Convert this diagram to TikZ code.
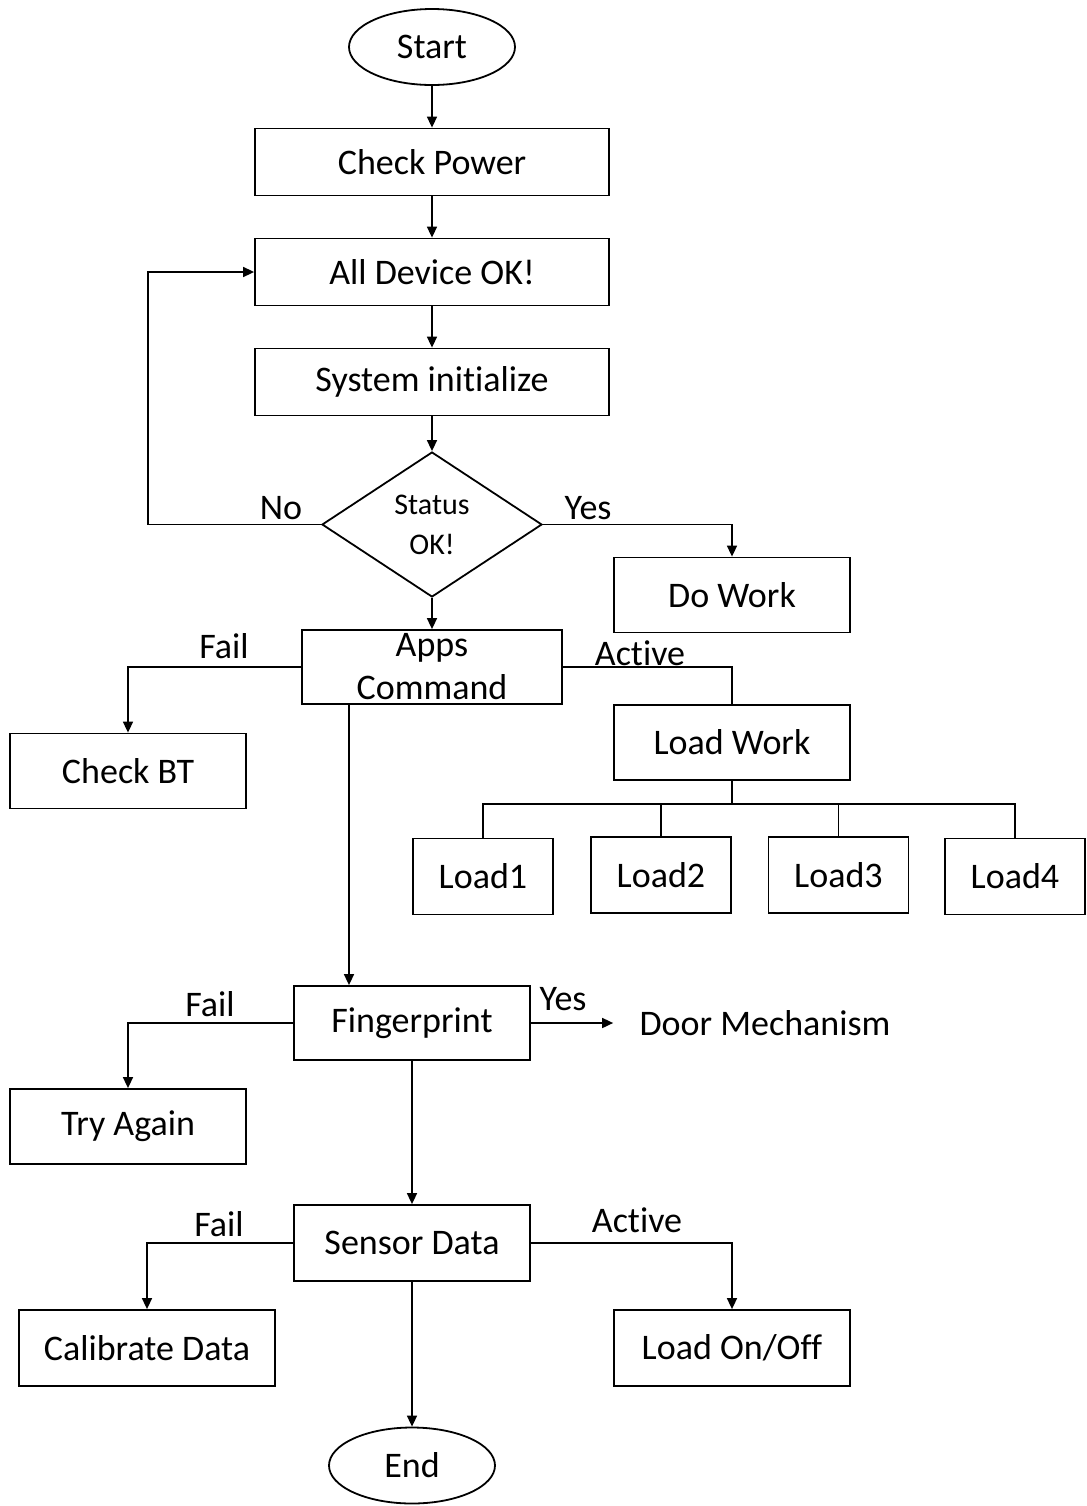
\documentclass[tikz,border=0pt]{standalone}
\usepackage{fontspec}
\setmainfont{Carlito}[Ligatures={NoCommon,NoContextual}]
\usetikzlibrary{shapes.geometric,arrows.meta}
\begin{document}
\begin{tikzpicture}[x=0.5pt,y=-0.5pt,
  every node/.style={font=\fontsize{18}{21.5}\selectfont, inner sep=0pt},
  box/.style={draw, line width=0.9pt, rectangle, minimum width=118pt, minimum height=37.5pt, align=center},
  wide/.style={box, minimum width=177pt, minimum height=33.5pt},
  loadbox/.style={box, minimum width=70pt, minimum height=38pt},
  term/.style={draw, line width=0.9pt, ellipse, minimum width=83pt, minimum height=38pt},
  dec/.style={draw, line width=0.9pt, diamond, minimum width=110pt, minimum height=72.5pt, align=center, font=\fontsize{15}{20}\selectfont},
  lbl/.style={font=\fontsize{18}{21.5}\selectfont},
  conn/.style={line width=0.8pt},
  arr/.style={conn, -{Triangle[length=5.5pt,width=5pt]}}
]
\useasboundingbox (0,0) rectangle (1087,1506);

\node[term] (start) at (432,47) {Start};
\node[wide] (power) at (432,162) {Check Power};
\node[wide] (alldev) at (432,272) {All Device OK!};
\node[wide] (sysinit) at (432,382) {System initialize};
\node[dec] (status) at (432,524.5) {Status\\OK!};
\node[box] (dowork) at (732,595) {Do Work};
\node[box, minimum width=130pt, minimum height=37pt] (apps) at (432,667) {Apps\\Command};
\node[box] (checkbt) at (128,771) {Check BT};
\node[box] (loadwork) at (732,742.5) {Load Work};
\node[loadbox] (l1) at (483,876.5) {Load1};
\node[loadbox] (l2) at (661,875) {Load2};
\node[loadbox] (l3) at (838.5,875) {Load3};
\node[loadbox] (l4) at (1015,876.5) {Load4};
\node[box, minimum height=37pt] (finger) at (412,1023) {Fingerprint};
\node (door) at (765,1023) {Door Mechanism};
\node[box] (tryagain) at (128,1126.5) {Try Again};
\node[box, minimum height=38pt] (sensor) at (412,1243) {Sensor Data};
\node[box, minimum width=128pt, minimum height=38pt] (calib) at (147,1348) {Calibrate Data};
\node[box, minimum height=38pt] (onoff) at (732,1348) {Load On/Off};
\node[term] (endn) at (412,1465.5) {End};

\coordinate (loopc) at (148,524.5);
\coordinate (tree) at (732,804);

\draw[arr] (start) -- (power);
\draw[arr] (power) -- (alldev);
\draw[arr] (alldev) -- (sysinit);
\draw[arr] (sysinit) -- (status);
\draw[arr] (status.west) -- (loopc) |- (alldev.west);
\draw[arr] (status.east) -| (dowork.north);
\draw[arr] (status.south) -- (apps.north);
\draw[arr] (apps.west) -| (checkbt.north);
\draw[conn] (apps.east) -| (loadwork.north);
\draw[conn] (loadwork.south) -- (tree);
\draw[conn] (tree) -| (l1.north);
\draw[conn] (tree) -| (l4.north);
\draw[conn] (l2.north) -- (l2.north |- tree);
\draw[conn] (l3.north) -- (l3.north |- tree);
\draw[arr] (apps.south -| 349,0) -- (finger.north -| 349,0);
\draw[arr] (finger.west) -| (tryagain.north);
\draw[arr, shorten >=13pt] (finger.east) -- (door.west);
\draw[arr] (finger.south) -- (sensor.north);
\draw[arr] (sensor.west) -| (calib.north);
\draw[arr] (sensor.east) -| (onoff.north);
\draw[arr] (sensor.south) -- (endn.north);

\node[lbl] (lno) at (281,508) {No};
\node[lbl] (lyes) at (588,508) {Yes};
\node[lbl] (lfail1) at (224,646) {Fail};
\node[lbl] (lact1) at (640,653) {Active};
\node[lbl] (lfail2) at (210,1004) {Fail};
\node[lbl] (lyes2) at (563,999) {Yes};
\node[lbl] (lfail3) at (219,1224) {Fail};
\node[lbl] (lact2) at (637,1220) {Active};
\end{tikzpicture}
\end{document}
